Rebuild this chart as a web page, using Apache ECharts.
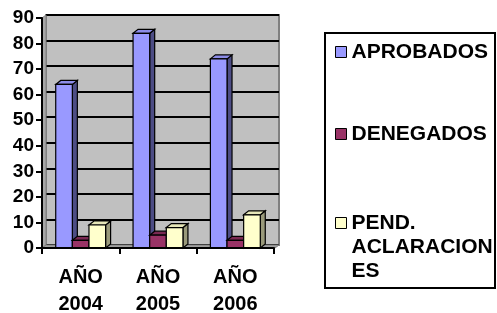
<!DOCTYPE html>
<html>
<head>
<meta charset="utf-8">
<script src="https://cdn.jsdelivr.net/npm/echarts@6/dist/echarts.min.js"></script>
<style>
    html, body { margin: 0; padding: 0; background: #fff; }
    #main { width: 497px; height: 313px; }
</style>
</head>
<body>
<div id="main"></div>
<script>
    // datos
    var categories = ['AÑO\n2004', 'AÑO\n2005', 'AÑO\n2006'];
    var aprobados = [64, 84, 74];
    var denegados = [3, 5, 3];
    var pendientes = [9, 8, 13];
    var yTicks = { min: 0, max: 90, step: 10 };

    var font = 'Liberation Sans';

    // barra 3D: cara frontal, superior y lateral
    function bar3d(name, values, idx, front, top, side) {
        return {
            name: name,
            type: 'custom',
            xAxisIndex: 0,
            yAxisIndex: 0,
            z: 3,
            itemStyle: { color: front, borderColor: '#000', borderWidth: 1 },
            data: values.map(function (v, i) { return [i, v]; }),
            renderItem: function (params, api) {
                var cat = api.value(0), val = api.value(1);
                var p = api.coord([cat, val]);
                var b = api.coord([cat, 0]);
                var band = api.size([1, 0])[0];
                var w = band * 0.215;
                var x0 = p[0] - 1.5 * w + idx * w;
                var dx = 5, dy = -4;
                var st = { stroke: '#000', lineWidth: 1.2 };
                return {
                    type: 'group',
                    children: [
                        {
                            type: 'polygon',
                            shape: { points: [[x0 + w, p[1]], [x0 + w + dx, p[1] + dy], [x0 + w + dx, b[1] + dy], [x0 + w, b[1]]] },
                            style: Object.assign({ fill: side }, st)
                        },
                        {
                            type: 'polygon',
                            shape: { points: [[x0, p[1]], [x0 + dx, p[1] + dy], [x0 + w + dx, p[1] + dy], [x0 + w, p[1]]] },
                            style: Object.assign({ fill: top }, st)
                        },
                        {
                            type: 'rect',
                            shape: { x: x0, y: p[1], width: w, height: b[1] - p[1] },
                            style: Object.assign({ fill: front }, st)
                        }
                    ]
                };
            }
        };
    }

    var legendText = { fontFamily: font, fontWeight: 'bold', fontSize: 21, color: '#000', lineHeight: 24 };

    var chart = echarts.init(document.getElementById('main'));
    var option = {
        animation: false,
        backgroundColor: '#fff',
        grid: [
            // plano frontal (ejes)
            { left: 42, width: 232, top: 18, bottom: 65, outerBoundsMode: 'none' },
            // pared del fondo
            { left: 46, width: 233, top: 15, bottom: 68, outerBoundsMode: 'none', show: true, backgroundColor: '#c0c0c0', borderColor: '#808080', borderWidth: 2, z: 0 }
        ],
        xAxis: [
            {
                type: 'category', gridIndex: 0, data: categories,
                axisLine: { lineStyle: { color: '#000', width: 2 } },
                axisTick: { show: true, length: 6, lineStyle: { color: '#000', width: 2 } },
                axisLabel: { fontFamily: font, fontWeight: 'bold', fontSize: 20, lineHeight: 27, color: '#000', margin: 16 },
                z: 4
            },
            { type: 'category', gridIndex: 1, data: categories, show: false }
        ],
        yAxis: [
            {
                type: 'value', gridIndex: 0, min: yTicks.min, max: yTicks.max, interval: yTicks.step,
                axisLine: { show: true, lineStyle: { color: '#000', width: 2 } },
                axisTick: { show: true, length: 6, lineStyle: { color: '#000', width: 2 } },
                axisLabel: { fontFamily: font, fontWeight: 'bold', fontSize: 19, color: '#000', margin: 8 },
                splitLine: { show: false },
                z: 4
            },
            {
                type: 'value', gridIndex: 1, min: yTicks.min, max: yTicks.max, interval: yTicks.step,
                axisLine: { show: false }, axisTick: { show: false }, axisLabel: { show: false },
                splitLine: { show: true, lineStyle: { color: '#000', width: 2 } }
            }
        ],
        legend: [
            {
                data: ['APROBADOS'], orient: 'vertical', left: 335, top: 40, padding: 0,
                icon: 'rect', itemWidth: 11, itemHeight: 11,
                itemStyle: { borderColor: '#000', borderWidth: 1 },
                textStyle: legendText
            },
            {
                data: ['DENEGADOS'], orient: 'vertical', left: 335, top: 122, padding: 0,
                icon: 'rect', itemWidth: 11, itemHeight: 11,
                itemStyle: { borderColor: '#000', borderWidth: 1 },
                textStyle: legendText
            },
            {
                // dos lineas vacias arriba para que el icono quede junto a "PEND."
                data: ['PEND. ACLARACIONES'], orient: 'vertical', left: 335, top: 163, padding: 0,
                icon: 'rect', itemWidth: 11, itemHeight: 11,
                itemStyle: { borderColor: '#000', borderWidth: 1 },
                formatter: function () { return ' \n \nPEND.\nACLARACION\nES'; },
                textStyle: legendText
            }
        ],
        graphic: [
            // pared izquierda
            { type: 'polygon', z: 1, shape: { points: [[42, 18], [46, 15], [46, 245], [42, 248]] }, style: { fill: '#a6a6a6', stroke: '#808080', lineWidth: 1 } },
            // suelo
            { type: 'polygon', z: 1, shape: { points: [[42, 248], [46, 245], [279, 245], [275, 248]] }, style: { fill: '#a0a0a0', stroke: '#808080', lineWidth: 1 } },
            // marco de la leyenda
            { type: 'rect', z: 0, shape: { x: 325, y: 33, width: 170, height: 255 }, style: { fill: '#fff', stroke: '#000', lineWidth: 2 } }
        ],
        series: [
            bar3d('APROBADOS', aprobados, 0, '#9999ff', '#8c8ce8', '#4d4d85'),
            bar3d('DENEGADOS', denegados, 1, '#993366', '#7a2952', '#5c1f3d'),
            bar3d('PEND. ACLARACIONES', pendientes, 2, '#ffffcc', '#e6e6b8', '#99997a')
        ]
    };
    chart.setOption(option);
</script>
</body>
</html>
